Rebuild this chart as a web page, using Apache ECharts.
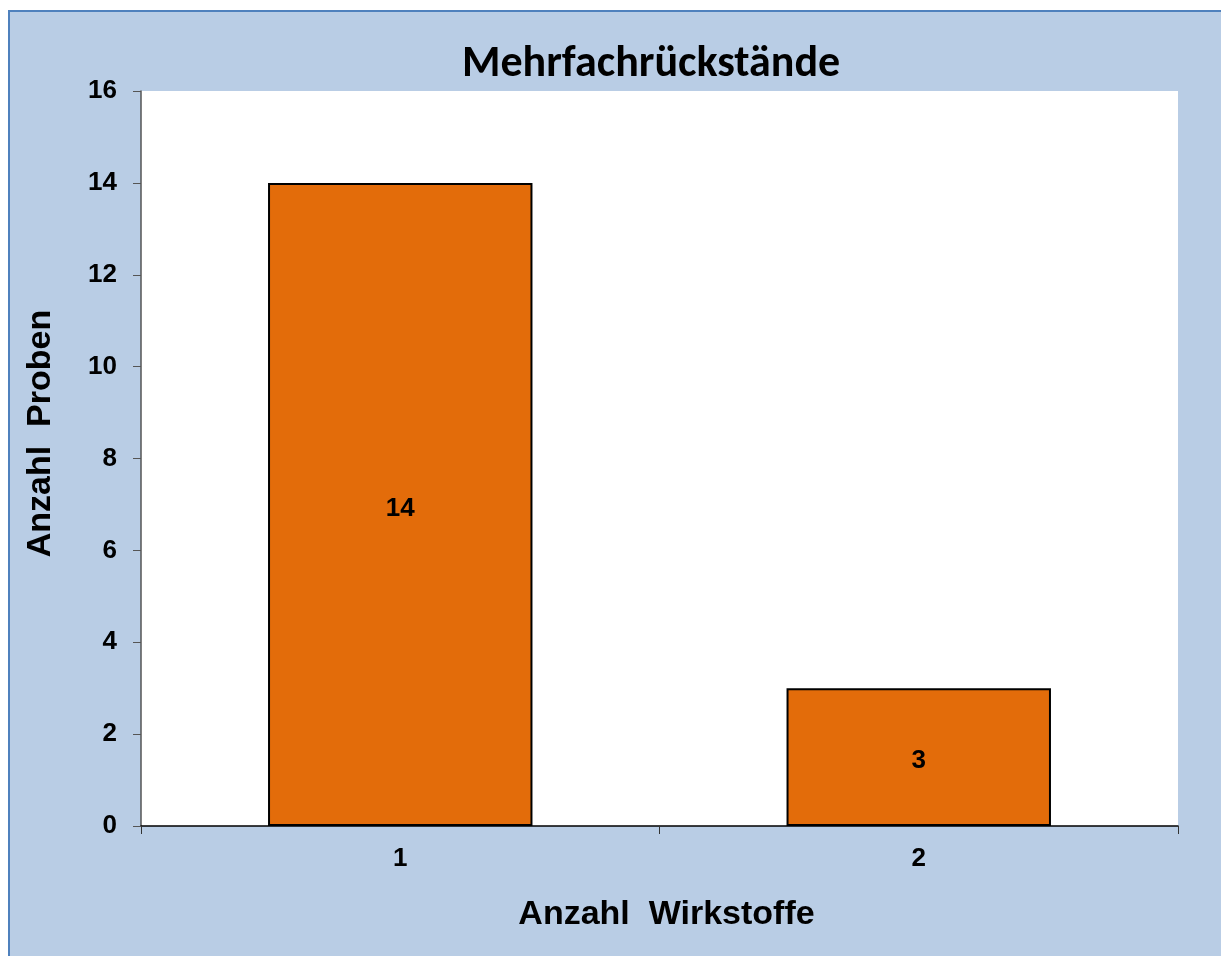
<!DOCTYPE html>
<html lang="de">
<head>
<meta charset="UTF-8">
<script src="https://cdn.jsdelivr.net/npm/echarts@6/dist/echarts.min.js"></script>
<style>
  html, body { margin: 0; padding: 0; background: #fff; }
  #main { width: 1221px; height: 956px; }
</style>
</head>
<body>
<div id="main"></div>
<script>
var categories = ['1', '2'];
var probenCounts = [14, 3];
var yTicks = [0, 2, 4, 6, 8, 10, 12, 14, 16];

var chart = echarts.init(document.getElementById('main'));
var font = 'Arial, "Liberation Sans", sans-serif';

chart.setOption({
    animation: false,
    backgroundColor: '#fff',
    graphic: [{
        type: 'rect',
        z: -10,
        shape: { x: 9, y: 11, width: 1230, height: 960 },
        style: { fill: '#b9cde5', stroke: '#4f81bd', lineWidth: 2 }
    }],
    title: {
        text: 'Mehrfachrückstände',
        left: 457,
        top: 38,
        textStyle: { fontFamily: 'Carlito, Calibri, ' + font, fontSize: 44, fontWeight: 'bold', color: '#000' }
    },
    grid: { left: 141, top: 91, width: 1037, height: 735, backgroundColor: '#fff', show: true, borderWidth: 0 },
    xAxis: {
        type: 'category',
        data: categories,
        name: 'Anzahl  Wirkstoffe',
        nameLocation: 'middle',
        nameGap: 72,
        nameTextStyle: { fontFamily: font, fontSize: 34, fontWeight: 'bold', color: '#000', padding: [0, 0, 0, 14] },
        axisLine: { lineStyle: { color: '#000', width: 1.5 } },
        axisTick: { show: true, length: 8, lineStyle: { color: '#333' } },
        axisLabel: { fontFamily: font, fontSize: 26, fontWeight: 'bold', color: '#000', margin: 20 }
    },
    yAxis: {
        type: 'value',
        min: yTicks[0],
        max: yTicks[yTicks.length - 1],
        interval: 2,
        name: 'Anzahl  Proben',
        nameLocation: 'middle',
        nameGap: 83,
        nameTextStyle: { fontFamily: font, fontSize: 34, fontWeight: 'bold', color: '#000', padding: [0, 0, 0, 50] },
        axisLine: { show: true, lineStyle: { color: '#555', width: 1.5 } },
        axisTick: { show: true, length: 8, lineStyle: { color: '#555' } },
        axisLabel: { fontFamily: font, fontSize: 26, fontWeight: 'bold', color: '#000', margin: 24 },
        splitLine: { show: false }
    },
    series: [{
        type: 'bar',
        data: probenCounts,
        barWidth: '51%',
        itemStyle: { color: '#e36c0a', borderColor: '#000', borderWidth: 2 },
        label: {
            show: true,
            position: 'inside',
            offset: [0, 4],
            fontFamily: font,
            fontSize: 26,
            fontWeight: 'bold',
            color: '#000'
        }
    }]
});
</script>
</body>
</html>
